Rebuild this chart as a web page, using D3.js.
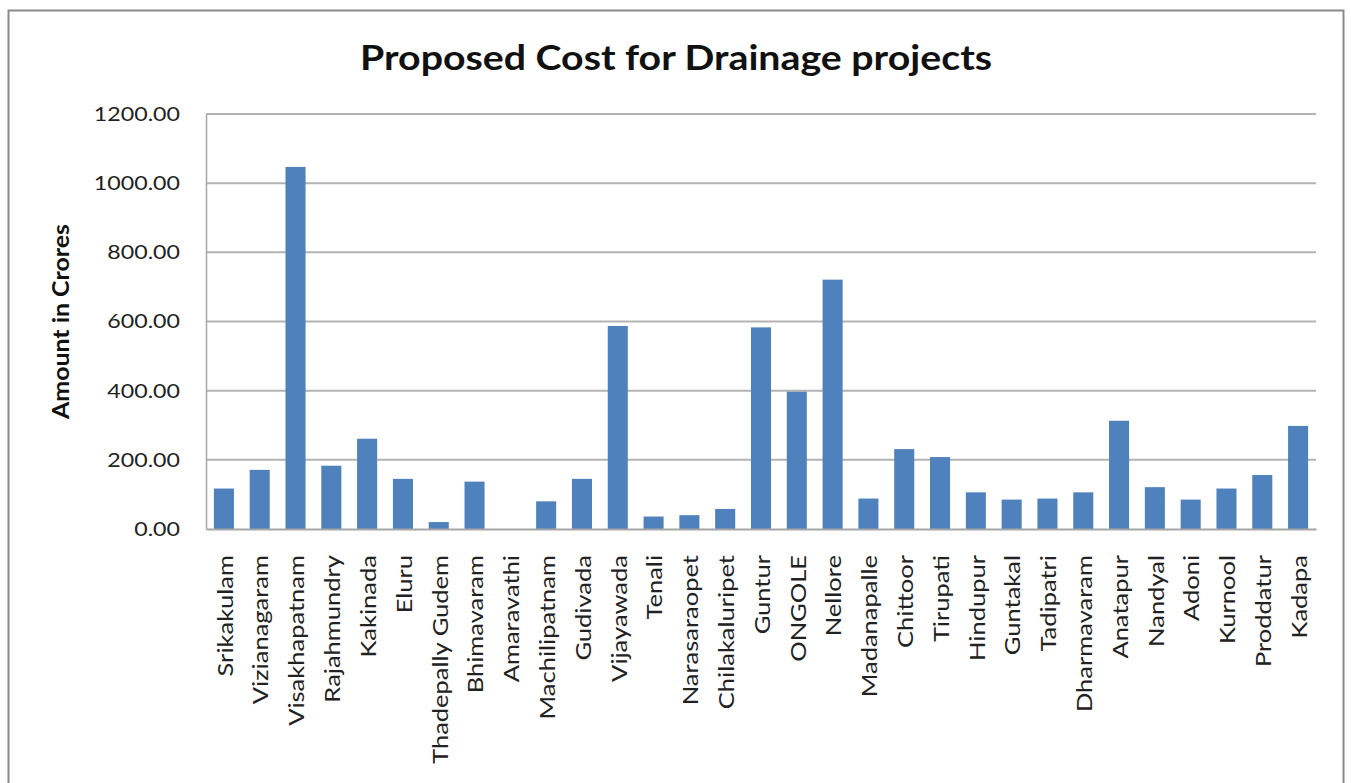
<!DOCTYPE html>
<html>
<head>
<meta charset="utf-8">
<script src="https://cdn.jsdelivr.net/npm/d3@7"></script>
<style>
  html, body { margin: 0; padding: 0; background: #fff; }
  svg { display: block; }
  text { font-family: Lato, "Open Sans", sans-serif; }
</style>
</head>
<body>
<svg id="chart" width="1351" height="783"></svg>
<script>
// Proposed drainage project costs per town (Rs. crores)
const towns = [
  "Srikakulam", "Vizianagaram", "Visakhapatnam", "Rajahmundry", "Kakinada",
  "Eluru", "Thadepally Gudem", "Bhimavaram", "Amaravathi", "Machilipatnam",
  "Gudivada", "Vijayawada", "Tenali", "Narasaraopet", "Chilakaluripet",
  "Guntur", "ONGOLE", "Nellore", "Madanapalle", "Chittoor",
  "Tirupati", "Hindupur", "Guntakal", "Tadipatri", "Dharmavaram",
  "Anatapur", "Nandyal", "Adoni", "Kurnool", "Proddatur", "Kadapa"
];
const costs = [
  117, 171, 1047, 183, 261,
  145, 20, 137, 0, 80,
  145, 587, 36, 40, 58,
  583, 397, 721, 88, 231,
  208, 106, 85, 88, 106,
  313, 121, 85, 117, 156, 298
];
const yTicks = [0, 200, 400, 600, 800, 1000, 1200];

const svg = d3.select("#chart");
const plot = { left: 206, right: 1316, top: 114, bottom: 529 };
// the typeface runs a little wide, so text is stretched along its baseline
const stretch = 1.16;

// outer chart frame
svg.append("rect")
  .attr("x", 8.5).attr("y", 10.5)
  .attr("width", 1335).attr("height", 790)
  .attr("fill", "#fff")
  .attr("stroke", "#8a8a8a").attr("stroke-width", 2);

const x = d3.scaleBand()
  .domain(towns)
  .range([plot.left, plot.right])
  .paddingInner(0.44)
  .paddingOuter(0.22);

const y = d3.scaleLinear()
  .domain([0, 1200])
  .range([plot.bottom, plot.top]);

// horizontal gridlines
svg.append("g")
  .selectAll("line")
  .data(yTicks.filter(t => t > 0))
  .join("line")
  .attr("x1", plot.left).attr("x2", plot.right)
  .attr("y1", d => y(d)).attr("y2", d => y(d))
  .attr("stroke", "#b3b3b3").attr("stroke-width", 2);

// bars
svg.append("g")
  .selectAll("rect")
  .data(towns.map((t, i) => ({ town: t, cost: costs[i] })))
  .join("rect")
  .attr("x", d => x(d.town))
  .attr("width", x.bandwidth())
  .attr("y", d => y(d.cost))
  .attr("height", d => y(0) - y(d.cost))
  .attr("fill", "#4f81bd");

// y axis
const yAxis = svg.append("g")
  .attr("transform", `translate(${plot.left},0)`)
  .call(d3.axisLeft(y).tickValues(yTicks).tickFormat(d3.format(".2f")).tickSize(0).tickPadding(0));
yAxis.select(".domain").attr("stroke", "#a6a6a6").attr("stroke-width", 1.5);
yAxis.selectAll("text")
  .attr("font-size", 20).attr("fill", "#222")
  .attr("font-family", "Lato, sans-serif")
  .attr("x", -26 / stretch)
  .attr("transform", `scale(${stretch},1)`);

// x axis
const xAxis = svg.append("g")
  .attr("transform", `translate(0,${plot.bottom})`)
  .call(d3.axisBottom(x).tickSize(0).tickSizeOuter(0));
xAxis.select(".domain").attr("stroke", "#a6a6a6").attr("stroke-width", 2);
xAxis.selectAll("text")
  .attr("font-size", 22).attr("fill", "#222")
  .attr("font-family", "Lato, sans-serif")
  .attr("text-anchor", "end")
  .attr("dy", null)
  .attr("transform", `rotate(-90) scale(${stretch},1)`)
  .attr("x", -26 / stretch)
  .attr("y", 0)
  .attr("dominant-baseline", "central");

// title
svg.append("text")
  .attr("x", 676).attr("y", 70)
  .attr("text-anchor", "middle")
  .attr("font-size", 35).attr("font-weight", "bold").attr("fill", "#111")
  .attr("textLength", 632).attr("lengthAdjust", "spacingAndGlyphs")
  .text("Proposed Cost for Drainage projects");

// y axis title
svg.append("text")
  .attr("transform", `translate(60,${(plot.top + plot.bottom) / 2}) rotate(-90)`)
  .attr("text-anchor", "middle")
  .attr("dominant-baseline", "central")
  .attr("font-size", 22).attr("font-weight", "bold").attr("fill", "#111")
  .attr("textLength", 195).attr("lengthAdjust", "spacingAndGlyphs")
  .text("Amount in Crores");
</script>
</body>
</html>
